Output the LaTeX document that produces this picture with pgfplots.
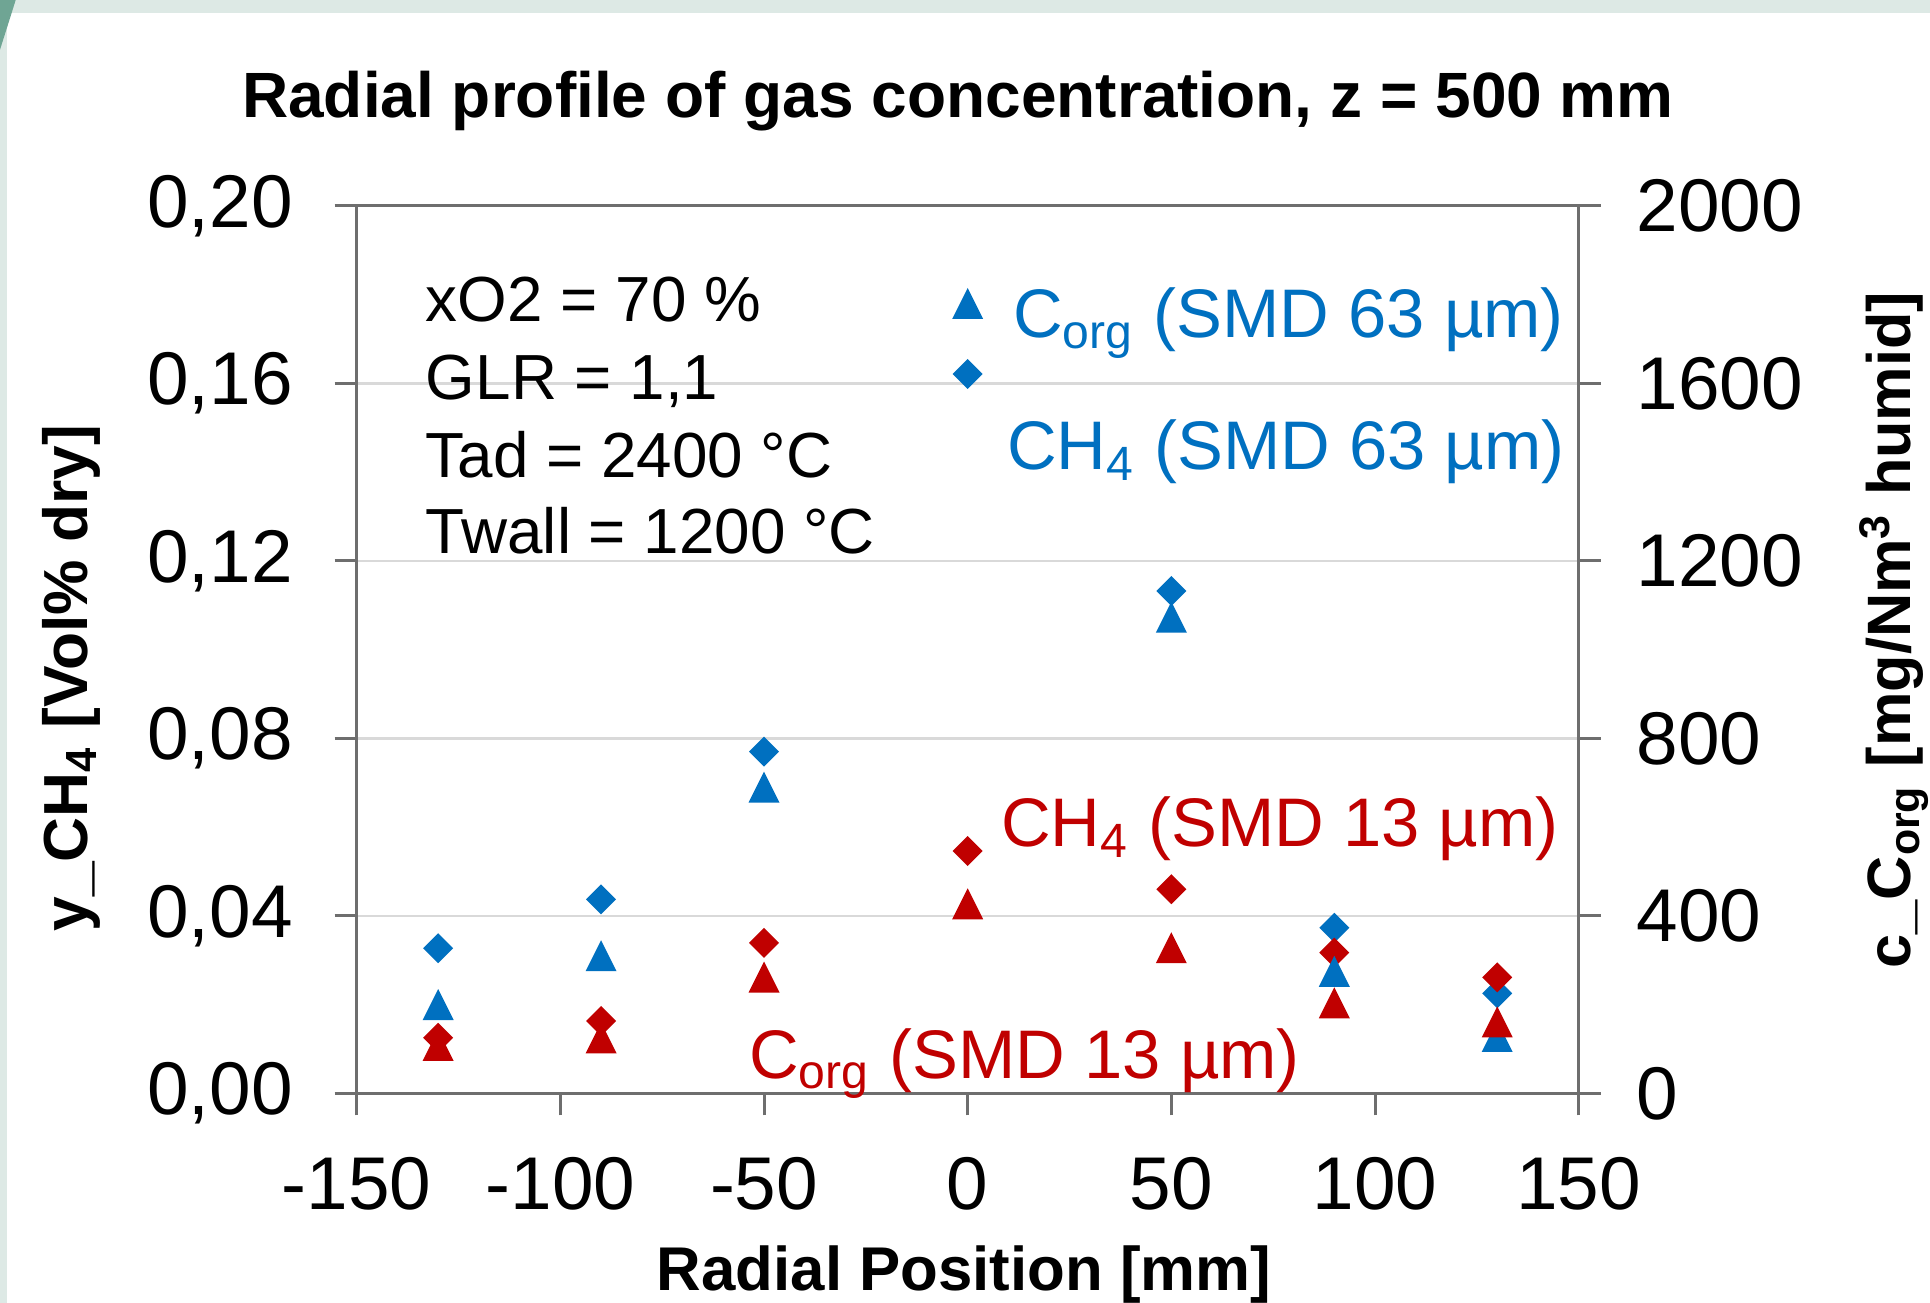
\documentclass[border=0pt]{standalone}
\usepackage{pgfplots}
\pgfplotsset{compat=1.18}
\usepackage{fontspec}
\setmainfont{Liberation Sans}

\definecolor{xlblue}{RGB}{0,112,192}
\definecolor{xlred}{RGB}{192,0,0}
\definecolor{gridgray}{RGB}{217,217,217}
\definecolor{axgray}{RGB}{110,110,110}
\definecolor{band}{RGB}{221,233,229}
\definecolor{bandd}{RGB}{111,165,148}

% Excel-like markers: square diamond, triangle centred on its box
\pgfdeclareplotmark{xdia}{%
  \pgfpathmoveto{\pgfqpoint{0pt}{\pgfplotmarksize}}%
  \pgfpathlineto{\pgfqpoint{\pgfplotmarksize}{0pt}}%
  \pgfpathlineto{\pgfqpoint{0pt}{-\pgfplotmarksize}}%
  \pgfpathlineto{\pgfqpoint{-\pgfplotmarksize}{0pt}}%
  \pgfpathclose\pgfusepathqfill}
\pgfdeclareplotmark{xtri}{%
  \pgfpathmoveto{\pgfqpoint{0pt}{\pgfplotmarksize}}%
  \pgfpathlineto{\pgfqpoint{\pgfplotmarksize}{-\pgfplotmarksize}}%
  \pgfpathlineto{\pgfqpoint{-\pgfplotmarksize}{-\pgfplotmarksize}}%
  \pgfpathclose\pgfusepathqfill}

\pgfplotsset{
  base/.style={
    scale only axis, width=244.4bp, height=177.5bp,
    at={(0,0)}, anchor=south west,
    xmin=-150, xmax=150,
    tick align=outside, major tick length=4.4bp,
    every tick/.style={axgray, line width=0.6bp},
    axis line style={axgray, line width=0.6bp},
    tick label style={font=\fontsize{15}{17}\selectfont},
    /pgf/number format/assume math mode=true,
  },
  dia/.style={only marks, mark=xdia, mark size=3bp, color=#1},
  tri/.style={only marks, mark=xtri, mark size=3.1bp, color=#1},
}

\begin{document}
\begin{tikzpicture}
\path[use as bounding box] (-71.34bp,-41.94bp) rectangle (314.66bp,218.66bp);
\fill[band] (-71.34bp,-41.94bp) rectangle (314.66bp,218.66bp);
\fill[white] (-70.0bp,-41.94bp) rectangle (314.66bp,216.1bp);
\fill[bandd] (-71.34bp,218.66bp) -- (-68.2bp,218.66bp) -- (-69.0bp,216.1bp) -- (-71.34bp,208.7bp) -- cycle;

% left axis: CH4 in Vol% dry
\begin{axis}[base,
  ymin=0, ymax=0.2, ytick={0,0.04,0.08,0.12,0.16,0.2},
  xtick={-150,-100,-50,0,50,100,150},
  xtick pos=lower, ytick pos=left,
  ymajorgrids, grid style={gridgray, line width=0.5bp},
  yticklabel style={xshift=-4.9bp, /pgf/number format/.cd, fixed, fixed zerofill, precision=2, use comma},
  xticklabel style={yshift=-4.9bp},
]
\addplot[dia=xlblue] coordinates {
  (-130,0.0327) (-90,0.0437) (-50,0.0770) (50,0.1132) (90,0.0373) (130,0.0225)
};
\addplot[dia=xlred] coordinates {
  (-130,0.0125) (-90,0.0163) (-50,0.0339) (0,0.0546) (50,0.0460) (90,0.0317) (130,0.0261)
};
% legend marker
\addplot[dia=xlblue] coordinates {(0,0.1621)};
\end{axis}

% right axis: C_org in mg/Nm3 humid
\begin{axis}[base,
  ymin=0, ymax=2000, ytick={0,400,800,1200,1600,2000},
  axis x line=none, axis y line*=right,
  yticklabel style={xshift=3.7bp, /pgf/number format/1000 sep={}},
]
\addplot[tri=xlblue] coordinates {
  (-130,200) (-90,310) (-50,690) (50,1073) (90,275) (130,128)
};
\addplot[tri=xlred] coordinates {
  (-130,108) (-90,125) (-50,262) (0,427) (50,328) (90,204) (130,161)
};
% legend marker
\addplot[tri=xlblue] coordinates {(0,1780)};
\end{axis}

% title and axis labels
\node[anchor=base, font=\bfseries\fontsize{12.85}{15}\selectfont] at (120.26bp,195.06bp)
  {Radial profile of gas concentration, z = 500 mm};
\node[anchor=base, font=\bfseries\fontsize{12.4}{14}\selectfont] at (121.46bp,-39.34bp)
  {Radial Position [mm]};
\node[rotate=90, font=\bfseries\fontsize{12.5}{14}\selectfont] at (-57.14bp,83.0bp)
  {y\_CH\textsubscript{4} [Vol\% dry]};
\node[rotate=90, font=\bfseries\fontsize{12.3}{14}\selectfont] at (307.46bp,92.66bp)
  {c\_C\textsubscript{org} [mg/Nm\textsuperscript{3} humid]};

% operating conditions
\begin{scope}[every node/.style={anchor=base west, inner sep=0pt, font=\fontsize{12.8}{15}\selectfont}]
\node at (13.66bp,154.26bp) {xO2 = 70 \%};
\node at (13.66bp,138.66bp) {GLR = 1,1};
\node at (13.66bp,123.14bp) {Tad = 2400 °C};
\node at (13.66bp,107.86bp) {Twall = 1200 °C};
\end{scope}

% series labels
\begin{scope}[every node/.style={anchor=base west, inner sep=0pt, font=\fontsize{13.8}{16}\selectfont}]
\node[text=xlblue] at (131.06bp,151.06bp) {C\textsubscript{org} (SMD 63 µm)};
\node[text=xlblue] at (129.86bp,124.66bp) {CH\textsubscript{4} (SMD 63 µm)};
\node[text=xlred] at (128.66bp,49.32bp) {CH\textsubscript{4} (SMD 13 µm)};
\node[text=xlred] at (78.26bp,3.06bp) {C\textsubscript{org} (SMD 13 µm)};
\end{scope}
\end{tikzpicture}
\end{document}
